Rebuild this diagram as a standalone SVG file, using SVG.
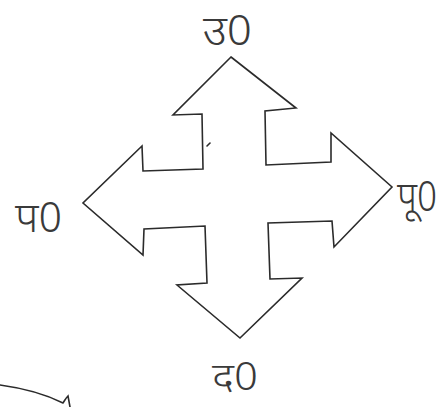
<svg xmlns="http://www.w3.org/2000/svg" width="448" height="407" viewBox="0 0 448 407">
<style>
.ln{fill:none;stroke:#2b2b2b;stroke-width:1.6;stroke-linejoin:miter;stroke-linecap:round}
.lb{font-family:"Noto Sans Devanagari","Noto Sans","Lohit Devanagari",sans-serif;font-size:42px;fill:#3a3a3a;font-weight:300}
</style>
<rect width="448" height="407" fill="#ffffff"/>
<g id="arrow-cross">
<polygon class="ln" points="231,57 296,108 265,111 266,165 331,162 331,133 392,187 334,247 332,221 268,223 270,279 302,278 240,338 177,285 207,283 205,226 144,229 143,255 83,203 142,146 143,171 203,169 202,114 173,115"/>
<path class="ln" d="M207,146 L210,143" stroke-width="1"/>
</g>
<g id="labels">
<text id="north" class="lb" x="203" y="45" textLength="49" lengthAdjust="spacingAndGlyphs">उ0</text>
<text id="west" class="lb" x="15" y="232" textLength="47" lengthAdjust="spacingAndGlyphs">प0</text>
<text id="east" class="lb" x="397" y="211" textLength="40" lengthAdjust="spacingAndGlyphs">पू0</text>
<text id="south" class="lb" x="212" y="390" font-size="38" style="font-size:38px" textLength="46" lengthAdjust="spacingAndGlyphs">द0</text>
</g>
<path class="ln" d="M0,385 C22,388 45,394 63,403 M63,403 C65,400 66,398 68,396 L70,407" stroke-width="1.3"/>
</svg>
